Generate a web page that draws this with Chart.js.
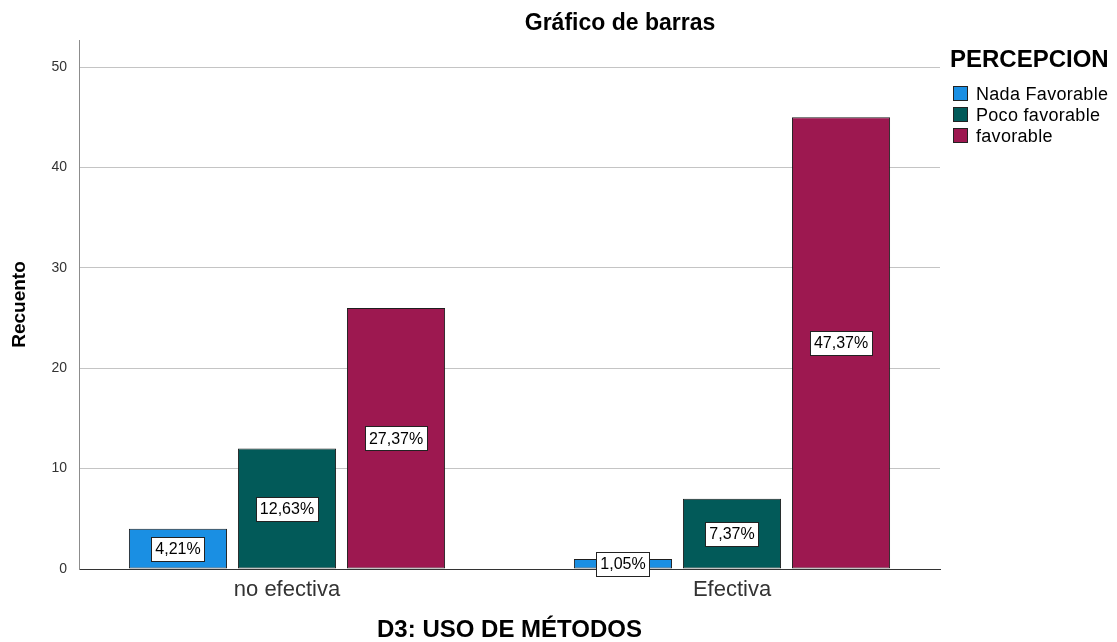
<!DOCTYPE html>
<html>
<head>
<meta charset="utf-8">
<script src="https://cdn.jsdelivr.net/npm/chart.js@4.4.1/dist/chart.umd.min.js"></script>
<style>
body { margin: 0; background: #fff; font-family: "Liberation Sans", Arial, sans-serif; }
#wrap { position: relative; width: 1117px; height: 642px; }
#titulo { position: absolute; top: 9px; left: 420px; width: 400px; text-align: center; font-weight: bold; font-size: 23px; color: #000; }
#leyenda { position: absolute; left: 950px; top: 45px; color: #000; }
#leyenda .tit { font-weight: bold; font-size: 24px; margin-bottom: 11px; }
#leyenda .item { font-size: 18px; height: 21px; line-height: 21px; white-space: nowrap; letter-spacing: 0.3px; }
#leyenda .caja { display: inline-block; width: 13px; height: 13px; border: 1px solid #222; vertical-align: -1px; margin: 0 8px 0 3px; }
</style>
</head>
<body>
<div id="wrap">
  <canvas id="mycanvas" width="1117" height="642"></canvas>
  <div id="titulo">Gráfico de barras</div>
  <div id="leyenda"></div>
</div>
<script>
var categorias = ["no efectiva", "Efectiva"];
var series = ["Nada Favorable", "Poco favorable", "favorable"];
var nadaFavorable = [4, 1];
var pocoFavorable = [12, 7];
var favorable = [26, 45];
var porcNada = ["4,21%", "1,05%"];
var porcPoco = ["12,63%", "7,37%"];
var porcFav = ["27,37%", "47,37%"];
var yTicks = [0, 10, 20, 30, 40, 50];

var colores = ["#1a8fe3", "#025a59", "#9d1850"];
var valores = [nadaFavorable, pocoFavorable, favorable];
var porcentajes = [porcNada, porcPoco, porcFav];

// leyenda en html
var ley = document.getElementById("leyenda");
var html = '<div class="tit">PERCEPCION</div>';
for (var s in series) {
	html += '<div class="item"><span class="caja" style="background:' + colores[s] + '"></span>' + series[s] + '</div>';
}
ley.innerHTML = html;

var datasets = [];
for (var s in series) {
	var puntos = [];
	for (var i in categorias) {
		puntos.push({ x: Number(i), y: valores[s][i] });
	}
	datasets.push({
		label: series[s],
		data: puntos,
		backgroundColor: colores[s],
		borderColor: "#1e1e1e",
		borderWidth: 1,
		borderSkipped: false,
		categoryPercentage: 0.735,
		barPercentage: 0.9,
		porc: porcentajes[s]
	});
}

// etiquetas con porcentaje en el medio de cada barra
var etiquetas = {
	id: "etiquetas",
	afterDatasetsDraw: function(chart) {
		var ctx = chart.ctx;
		ctx.save();
		ctx.font = '16px "Liberation Sans", Arial, sans-serif';
		ctx.textAlign = "center";
		ctx.textBaseline = "middle";
		chart.data.datasets.forEach(function(ds, d) {
			chart.getDatasetMeta(d).data.forEach(function(bar, j) {
				var txt = ds.porc[j];
				var w = ctx.measureText(txt).width + 8;
				var h = 24;
				var cy = (bar.y + bar.base) / 2;
				ctx.fillStyle = "#fff";
				ctx.fillRect(Math.round(bar.x - w / 2) + 0.5, Math.round(cy - h / 2) + 0.5, Math.round(w), h);
				ctx.strokeStyle = "#222";
				ctx.lineWidth = 1;
				ctx.strokeRect(Math.round(bar.x - w / 2) + 0.5, Math.round(cy - h / 2) + 0.5, Math.round(w), h);
				ctx.fillStyle = "#000";
				ctx.fillText(txt, bar.x, cy + 1);
			});
		});
		ctx.restore();
	}
};

var ctx = document.getElementById("mycanvas");
var grafico = new Chart(ctx, {
	type: "bar",
	data: { datasets: datasets },
	plugins: [etiquetas],
	options: {
		responsive: false,
		animation: false,
		layout: { padding: { top: 40, right: 177, left: 0, bottom: 0 } },
		plugins: {
			legend: { display: false },
			tooltip: { enabled: false }
		},
		scales: {
			x: {
				type: "linear",
				offset: false,
				min: -0.4674,
				max: 1.4674,
				grid: { display: false, drawTicks: false, offset: false },
				border: { color: "#333", width: 1 },
				afterBuildTicks: function(scale) {
					scale.ticks = categorias.map(function(c, i) { return { value: i }; });
				},
				afterFit: function(scale) { scale.height = 73; },
				ticks: {
					padding: 8,
					color: "#333",
					font: { family: '"Liberation Sans", Arial, sans-serif', size: 22 },
					callback: function(v) { return categorias[v]; }
				},
				title: {
					display: true,
					text: "D3: USO DE MÉTODOS",
					color: "#000",
					padding: { top: 0, bottom: 0 },
					font: { family: '"Liberation Sans", Arial, sans-serif', size: 24, weight: "bold", lineHeight: 1 }
				}
			},
			y: {
				min: 0,
				max: 52.7,
				afterBuildTicks: function(scale) {
					scale.ticks = yTicks.map(function(v) { return { value: v }; });
				},
				afterFit: function(scale) { scale.width = 79; },
				grid: { color: "#c4c4c4", drawTicks: false },
				border: { color: "#8c8c8c", width: 1 },
				ticks: {
					padding: 12,
					color: "#333",
					font: { family: '"Liberation Sans", Arial, sans-serif', size: 14 }
				},
				title: {
					display: true,
					text: "Recuento",
					color: "#000",
					padding: { top: 8, bottom: 0 },
					font: { family: '"Liberation Sans", Arial, sans-serif', size: 19, weight: "bold" }
				}
			}
		}
	}
});
</script>
</body>
</html>
